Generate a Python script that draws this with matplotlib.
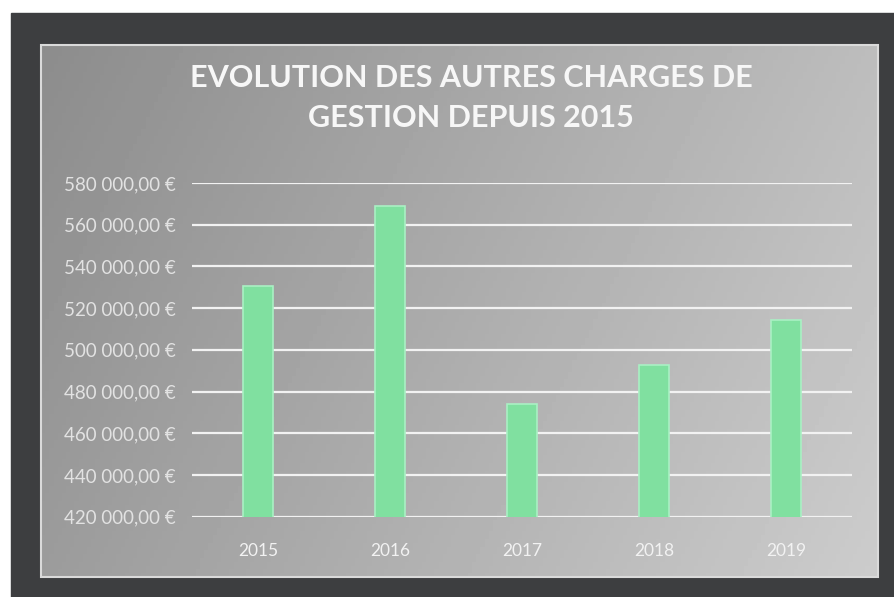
import numpy as np
from matplotlib import pyplot as plt
from matplotlib.patches import Rectangle
from matplotlib.ticker import FuncFormatter, MultipleLocator

# Data
years = ['2015', '2016', '2017', '2018', '2019']
charges = [530500, 569000, 474200, 492500, 514100]
title = 'EVOLUTION DES AUTRES CHARGES DE\nGESTION DEPUIS 2015'

W, H = 894, 597
plt.rcParams['font.family'] = ['Lato', 'DejaVu Sans']

fig = plt.figure(figsize=(W / 100, H / 100), dpi=100)
fig.patch.set_facecolor('white')

# Background: dark frame + grey gradient panel
bg = fig.add_axes([0, 0, 1, 1])
bg.set_xlim(0, W)
bg.set_ylim(H, 0)
bg.axis('off')
bg.add_patch(Rectangle((11, 13), W - 11, H - 13, color='#3d3e40', zorder=0))
gx, gy = np.meshgrid(np.linspace(0, 1, 200), np.linspace(0, 1, 140))
shade = 0.55 + 0.19 * gx + 0.06 * gy
bg.imshow(shade, cmap='gray', vmin=0, vmax=1, extent=[41, 878, 577, 45],
          aspect='auto', zorder=1)
bg.add_patch(Rectangle((41, 45), 837, 532, fill=False, edgecolor='#dadada',
                       lw=1.5, zorder=2))

# Chart
ax = fig.add_axes([192 / W, 1 - 516.7 / H, 660 / W, (516.7 - 183) / H])
ax.set_facecolor('none')
x = np.arange(len(years))
ax.bar(x, charges, width=0.22, color='#80e0a0', edgecolor='#aaf0c4',
       linewidth=1.2, zorder=3)
ax.set_xlim(-0.5, len(years) - 0.5)
ax.set_ylim(420000, 580000)
ax.yaxis.set_major_locator(MultipleLocator(20000))
ax.yaxis.set_major_formatter(FuncFormatter(
    lambda v, p: f'{int(v):,}'.replace(',', ' ') + ',00 €'))
ax.grid(axis='y', color='#f2f2f2', lw=1.6, zorder=1)
ax.set_xticks(x)
ax.set_xticklabels(years)
for s in ax.spines.values():
    s.set_visible(False)
ax.tick_params(length=0)
ax.tick_params(axis='y', labelsize=13.5, labelcolor='#e2e2e2', pad=12)
ax.tick_params(axis='x', labelsize=12.5, labelcolor='#f2f2f2', pad=19)

fig.text(471 / W, 1 - 98 / H, title, ha='center', va='center',
         fontsize=22, fontweight='bold', color='#f7f7f7', linespacing=1.55)

fig.savefig('out.png', dpi=100)
